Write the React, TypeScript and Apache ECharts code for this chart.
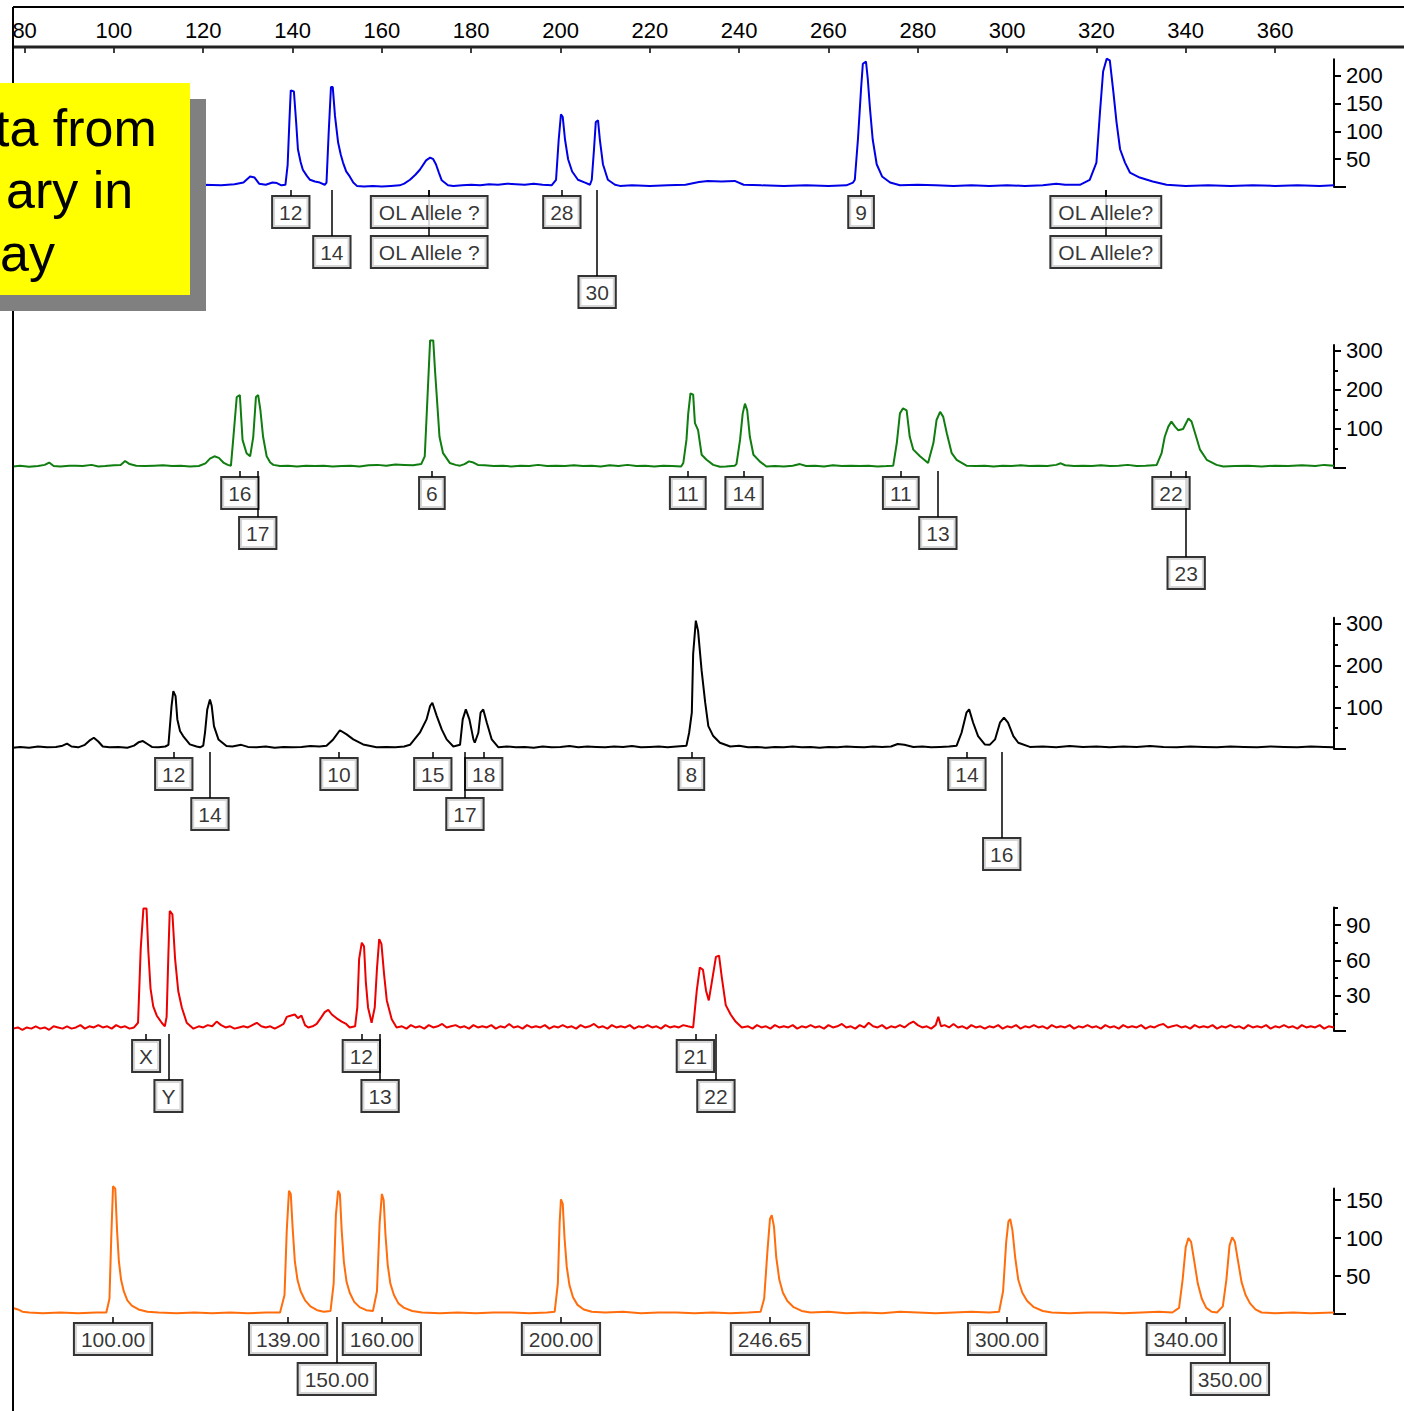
import React, { useEffect, useRef } from 'react';
import * as echarts from 'echarts';

// ---------- data (fragment sizes in bp, peak heights in RFU) ----------
const TOP_TICKS = [80, 100, 120, 140, 160, 180, 200, 220, 240, 260, 280, 300, 320, 340, 360];

const BLUE_TRACE: [number, number][] = [
  [77.4,3],[80,2],[84,4],[88,2],[92,3],[96,2],[100,4],[104,2],[108,3],[112,3],[116,2],[120,4],[124,3],[127,5],[129,8],[130.5,19],[131.5,17],[132.5,6],[134,4],[135.5,8],[136.5,7],[137.5,3],[138.4,4],[138.9,40],[139.3,120],[139.6,174],[140.3,172],[140.8,117],[141.2,68],[141.8,45],[142.3,31],[143.2,20],[143.9,13],[145,10],[146.1,8],[147.2,4],[147.6,8],[148.1,100],[148.6,180],[149.0,180],[149.5,128],[150.2,80],[150.8,58],[151.3,44],[152,28],[152.8,19],[153.6,8],[154.4,2],[156,1],[158,2],[160,1],[162,2],[164,3],[165,6],[166.3,13],[167.5,22],[168.5,31],[169.9,48],[170.8,53],[171.5,50],[172.1,41],[172.8,25],[173.4,12],[174.8,3],[176,2],[178,3],[180,4],[182,3],[184,5],[186,4],[188,6],[190,5],[192,4],[194,6],[196,4],[198,3],[199,13],[199.6,86],[200.1,131],[200.5,126],[201,86],[201.7,50],[202.6,28],[203.9,13],[205.5,8],[206.6,4],[207,13],[207.5,68],[207.9,117],[208.4,120],[208.8,86],[209.5,41],[210.6,13],[212.2,4],[213.3,2],[216,3],[220,2],[224,3],[228,4],[231,9],[233,11],[236,10],[239,11],[241,4],[245,3],[250,2],[255,3],[260,2],[264,3],[265.5,8],[265.9,13],[266.6,86],[267.3,177],[267.7,222],[268.4,226],[268.8,195],[269.3,141],[269.9,86],[270.8,41],[272,19],[273.8,8],[276,3],[280,4],[284,3],[288,2],[292,3],[296,2],[300,3],[304,2],[308,3],[311,6],[313,4],[316.3,4],[318.5,13],[320,44],[320.8,135],[321.5,208],[322.3,231],[323,228],[323.8,171],[324.5,117],[325.3,68],[326.4,44],[327.5,26],[329.7,17],[332.6,10],[335.7,4],[340,2],[345,3],[350,2],[355,3],[360,2],[365,3],[370,2],[373.2,3]
];

const GREEN_TRACE: [number, number][] = [
  [77.4,4],[79,6],[81,3],[83,5],[84.5,8],[85.5,14],[86.5,5],[88,4],[90,6],[91.5,6],[93,5],[95,8],[96.5,4],[98,5],[100,7],[101.5,8],[102.5,18],[103.5,10],[105,6],[107,5],[109,6],[111,7],[113,5],[115,6],[117,4],[119,5],[120.5,12],[121.5,24],[122.5,30],[123.5,26],[124.5,14],[125.5,8],[126.2,6],[126.7,72],[127.5,182],[128.2,187],[128.8,72],[129.7,38],[130.5,30],[131.2,80],[131.8,182],[132.3,187],[132.8,148],[133.4,80],[134.2,30],[135,14],[135.7,8],[137.2,5],[139,6],[141,4],[143,6],[145,5],[147,6],[149,4],[151,5],[153,6],[155,4],[157,7],[159,8],[161,6],[163,9],[165,8],[167,7],[168.8,10],[169.6,30],[170.2,178],[170.8,327],[171.5,327],[171.9,250],[172.3,182],[172.9,80],[173.7,38],[175.2,13],[176.5,8],[177.5,6],[178.5,10],[179.5,17],[180.5,14],[181.5,8],[183,7],[185,5],[187,6],[189,4],[191,6],[193,5],[195,8],[197,5],[199,6],[201,5],[203,7],[205,5],[207,6],[209,4],[211,7],[213,5],[215,8],[217,5],[219,6],[221,4],[223,6],[225,5],[227,4],[227.5,13],[228.2,72],[228.6,140],[229.1,191],[229.7,188],[230.1,115],[230.8,97],[231.6,34],[232.7,21],[234.2,8],[235.7,3],[237,4],[239,6],[239.4,10],[240.2,72],[240.8,140],[241.3,165],[241.8,148],[242.4,80],[243.2,34],[244.6,17],[246.1,4],[248,5],[250,4],[252,6],[253.6,10],[255,5],[257,6],[259,4],[261,7],[263,5],[265,6],[267,5],[269,6],[271,4],[273,5],[274.5,6],[275.3,64],[276,140],[276.7,153],[277.5,148],[278.2,80],[279,47],[280.5,30],[282.3,13],[283.5,64],[284.2,123],[285,144],[285.7,131],[286.5,89],[287.6,38],[288.7,21],[290.9,6],[293,5],[295,6],[297,4],[299,6],[301,5],[303,7],[305,5],[307,6],[309,5],[311,8],[312,12],[313,7],[315,5],[317,6],[319,5],[321,7],[323,5],[325,6],[327,8],[329,5],[331,6],[333.5,8],[334.6,38],[335.3,80],[336.1,106],[336.8,119],[337.6,106],[338.3,97],[339.4,100],[340.6,127],[341.3,119],[342.1,89],[343.2,47],[344.7,21],[346.9,8],[348.4,4],[351,5],[354,6],[357,4],[360,6],[363,5],[366,7],[369,5],[371,8],[373.2,6]
];

const BLACK_TRACE: [number, number][] = [
  [77.4,3],[79,5],[81,3],[83,6],[85,4],[87,5],[88.5,8],[89.5,13],[90.5,6],[92,4],[93.5,10],[94.5,20],[95.5,27],[96.5,18],[97.5,6],[99,4],[101,5],[103,3],[104.5,8],[105.5,16],[106.5,19],[107.5,12],[108.5,5],[110,4],[111.5,6],[112.2,10],[112.9,103],[113.3,139],[113.8,127],[114.2,71],[114.8,43],[115.5,31],[117,11],[118.5,6],[119.3,4],[120.0,8],[120.4,40],[120.9,95],[121.5,119],[121.9,103],[122.4,55],[123.4,23],[125.2,7],[126.5,6],[128.5,10],[130,5],[132,4],[134,6],[136,3],[138,5],[140,4],[142,5],[144,7],[146,6],[147.6,8],[149.1,23],[150.6,45],[152.1,35],[153.6,23],[155.8,11],[158.8,4],[161,5],[163,4],[165,6],[166.3,10],[168.5,39],[170.0,71],[170.8,103],[171.3,111],[172.3,79],[173.4,47],[174.5,23],[176.0,6],[177.5,10],[178.1,71],[178.8,95],[179.6,71],[180.5,23],[180.8,15],[181.6,39],[182.1,87],[182.7,95],[183.5,63],[184.6,23],[186.1,4],[188,6],[190,4],[192,5],[194,3],[196,6],[198,4],[200,5],[202,7],[204,4],[206,6],[208,5],[210,4],[212,6],[214,5],[216,7],[218,4],[220,5],[222,6],[224,4],[226,6],[228.2,8],[228.8,39],[229.4,87],[229.7,228],[230.3,308],[230.8,284],[231.6,188],[232.4,111],[233.1,55],[234.2,31],[235.7,15],[238,6],[240,8],[242,4],[244,5],[246,3],[248,5],[250,4],[252,6],[254,4],[256,5],[258,3],[260,5],[262,4],[264,6],[266,5],[268,4],[270,6],[272,5],[274,6],[275.5,12],[277,10],[279,5],[281,6],[283,4],[285,5],[287,6],[288.7,8],[289.8,39],[290.9,87],[291.5,95],[292.4,63],[293.5,31],[295,11],[296.1,10],[297.3,23],[298.4,63],[299.3,75],[300.2,63],[301.4,31],[302.5,15],[305.1,5],[308,6],[311,4],[314,7],[317,5],[320,6],[323,4],[326,6],[329,5],[332,7],[335,5],[338,4],[341,6],[344,5],[347,4],[350,6],[353,5],[356,4],[359,6],[362,5],[365,4],[368,6],[371,5],[373.2,4]
];

const RED_TRACE: [number, number][] = [
  [77.4,2],[78.5,3],[79.5,1],[80.5,3],[81.5,2],[82.5,4],[83.5,2],[84.5,3],[85.5,1],[86.5,4],[87.5,3],[88.5,2],[89.5,4],[90.5,2],[91.5,3],[92.5,5],[93.5,2],[94.5,4],[95.5,3],[96.5,5],[97.5,3],[98.5,4],[99.5,2],[100.5,5],[101.5,3],[102.5,4],[103.5,2],[104.5,3],[105.4,7],[106.0,70],[106.6,104],[107.3,104],[107.7,68],[108.2,36],[108.8,21],[109.6,13],[110.7,7],[111.4,4],[111.8,12],[112.2,66],[112.5,102],[113.1,99],[113.7,61],[114.4,34],[115.2,20],[116.3,7],[117.8,2],[119,4],[120,3],[121,5],[122,4],[123,8],[124,5],[125,3],[126,4],[127,2],[128,3],[129,4],[130,3],[131,5],[132,7],[133,4],[134,3],[135,4],[136,2],[137,4],[138,6],[138.7,12],[139.5,13],[140.5,14],[141.2,11],[142,13],[142.8,5],[143.5,3],[144.5,4],[145.4,6],[146.5,12],[147.2,16],[148,18],[148.8,14],[149.8,11],[151,8],[152,6],[152.8,3],[154,4],[154.5,20],[154.9,61],[155.5,75],[156,72],[156.4,42],[156.9,20],[157.7,7],[158.4,20],[158.9,53],[159.4,78],[159.9,74],[160.5,48],[161.1,26],[162.2,10],[163.3,3],[164.5,4],[165.5,2],[166.5,5],[167.5,3],[168.5,4],[169.5,2],[170.5,5],[171.5,3],[172.5,4],[173.5,6],[174.5,3],[175.5,4],[176.5,5],[177.5,3],[178.5,4],[179.5,2],[180.5,5],[181.5,3],[182.5,4],[183.5,3],[184.5,5],[185.5,2],[186.5,4],[187.5,3],[188.5,6],[189.5,3],[190.5,4],[191.5,2],[192.5,5],[193.5,3],[194.5,4],[195.5,3],[196.5,5],[197.5,2],[198.5,4],[199.5,3],[200.5,5],[201.5,3],[202.5,4],[203.5,2],[204.5,5],[205.5,3],[206.5,4],[207.5,6],[208.5,3],[209.5,4],[210.5,2],[211.5,5],[212.5,3],[213.5,4],[214.5,3],[215.5,5],[216.5,2],[217.5,4],[218.5,3],[219.5,5],[220.5,3],[221.5,4],[222.5,2],[223.5,5],[224.5,3],[225.5,4],[226.5,3],[227.5,5],[228.5,4],[229.7,3],[230.5,34],[231.2,54],[231.9,52],[232.6,34],[233.2,26],[233.9,42],[234.8,63],[235.5,64],[236.1,46],[237,22],[238.1,14],[239.2,8],[240.6,3],[242,4],[243,2],[244,5],[245,3],[246,4],[247,2],[248,5],[249,3],[250,4],[251,3],[252,5],[253,2],[254,4],[255,3],[256,5],[257,3],[258,4],[259,2],[260,5],[261,3],[262,4],[263,6],[264,3],[265,4],[266,2],[267,5],[268,3],[269,7],[270,4],[271,3],[272,5],[273,2],[274,4],[275,3],[276,5],[277,3],[278,6],[279,8],[280,5],[281,3],[282,4],[283,2],[284,5],[284.6,12],[285.2,4],[286,5],[287,3],[288,6],[289,3],[290,4],[291,2],[292,5],[293,3],[294,4],[295,2],[296,4],[297,3],[298,5],[299,2],[300,4],[301,3],[302,5],[303,2],[304,4],[305,3],[306,5],[307,3],[308,4],[309,2],[310,5],[311,3],[312,4],[313,3],[314,5],[315,2],[316,4],[317,3],[318,5],[319,3],[320,4],[321,2],[322,5],[323,3],[324,4],[325,2],[326,5],[327,3],[328,4],[329,3],[330,5],[331,2],[332,4],[333,3],[334,5],[335,6],[336,3],[337,4],[338,5],[339,3],[340,4],[341,2],[342,5],[343,3],[344,4],[345,3],[346,5],[347,2],[348,4],[349,3],[350,5],[351,3],[352,4],[353,2],[354,5],[355,3],[356,4],[357,3],[358,5],[359,2],[360,4],[361,3],[362,5],[363,3],[364,4],[365,2],[366,5],[367,3],[368,4],[369,3],[370,5],[371,2],[372,4],[373.2,3]
];

const ORANGE_TRACE: [number, number][] = [
  [77.4,8],[78.5,6],[79.5,3],[81,2],[84,1],[88,2],[92,1],[96,2],[98.3,2],[99.0,20],[99.4,100],[99.8,168],[100.3,165],[100.7,110],[101.1,70],[101.6,45],[102.2,30],[103,18],[104,11],[105.5,6],[107.5,3],[110,2],[114,1],[118,2],[122,1],[126,2],[130,1],[134,2],[137.2,2],[138.2,25],[138.7,110],[139.2,162],[139.6,158],[140.0,115],[140.5,70],[141.1,45],[141.8,30],[142.8,18],[144,10],[145.5,5],[147,3],[148.5,4],[149.2,40],[149.7,130],[150.2,162],[150.6,158],[151.0,110],[151.5,68],[152.1,42],[152.8,28],[153.8,16],[155,9],[156.5,5],[158,4],[158.9,30],[159.5,120],[160.0,158],[160.4,150],[160.8,105],[161.3,65],[161.9,40],[162.7,25],[163.7,14],[165,8],[166.8,4],[169,2],[173,1],[177,2],[181,1],[185,2],[189,2],[193,1],[197,2],[198.7,3],[199.4,40],[199.8,120],[200.1,151],[200.5,145],[200.9,100],[201.4,62],[202,38],[202.8,22],[203.8,12],[205.2,6],[207,3],[210,2],[214,3],[218,1],[222,2],[226,2],[230,1],[234,2],[238,1],[242,2],[244.8,3],[245.6,20],[246.3,80],[246.9,125],[247.3,130],[247.8,115],[248.3,75],[249,45],[249.8,28],[250.8,17],[252.2,9],[254,4],[256,2],[260,3],[264,1],[268,2],[272,1],[276,3],[280,2],[284,1],[288,2],[292,3],[296,2],[298.2,3],[299.1,30],[299.8,95],[300.3,122],[300.7,125],[301.2,110],[301.8,75],[302.5,45],[303.4,28],[304.5,17],[306,9],[308,4],[310,2],[314,1],[318,2],[322,2],[326,1],[330,2],[334,3],[337,2],[338.5,8],[339.3,45],[340,88],[340.6,100],[341.2,95],[341.9,70],[342.7,40],[343.6,20],[344.6,8],[345.8,3],[347,2],[348.3,10],[349.1,45],[349.8,90],[350.4,101],[351,95],[351.7,70],[352.5,42],[353.4,25],[354.4,14],[355.6,6],[357,2],[360,1],[364,2],[368,1],[373.2,2]
];

// allele call labels: [size, row, text]
const BLUE_LABELS: [number, number, string][] = [
  [139.6,1,'12'],[148.8,2,'14'],[170.6,1,'OL Allele ?'],[170.6,2,'OL Allele ?'],[200.3,1,'28'],[208.2,3,'30'],[267.3,1,'9'],[322.1,1,'OL Allele?'],[322.1,2,'OL Allele?']
];
const GREEN_LABELS: [number, number, string][] = [
  [128.2,1,'16'],[132.2,2,'17'],[171.2,1,'6'],[228.5,1,'11'],[241.1,1,'14'],[276.2,1,'11'],[284.5,2,'13'],[336.7,1,'22'],[340.1,3,'23']
];
const BLACK_LABELS: [number, number, string][] = [
  [113.4,1,'12'],[121.5,2,'14'],[150.4,1,'10'],[171.4,1,'15'],[178.6,2,'17'],[182.8,1,'18'],[229.3,1,'8'],[291.0,1,'14'],[298.8,3,'16']
];
const RED_LABELS: [number, number, string][] = [
  [107.2,1,'X'],[112.2,2,'Y'],[155.4,1,'12'],[159.6,2,'13'],[230.2,1,'21'],[234.8,2,'22']
];
const ORANGE_LABELS: [number, number, string][] = [
  [99.8,1,'100.00'],[139.0,1,'139.00'],[149.9,2,'150.00'],[160.0,1,'160.00'],[200.1,1,'200.00'],[246.9,1,'246.65'],[300.0,1,'300.00'],[340.0,1,'340.00'],[349.9,2,'350.00']
];

// right-hand axis tick labels
const BLUE_AXIS = [50, 100, 150, 200];
const GREEN_AXIS = [100, 200, 300];
const GREEN_MINOR = [50, 150, 250];
const BLACK_AXIS = [100, 200, 300];
const BLACK_MINOR = [50, 150, 250];
const RED_AXIS = [30, 60, 90];
const RED_MINOR = [15, 45, 75, 105];
const ORANGE_AXIS = [50, 100, 150];

// ---------- layout ----------
const X_MIN = 77.4;
const X_MAX = 373.2;
const PLOT_LEFT = 13;
const PLOT_WIDTH = 1321;
const FONT = "'Liberation Sans', Arial, Helvetica, sans-serif";

const PANELS = [
  { trace: BLUE_TRACE, labels: BLUE_LABELS, color: '#0000e6', max: 230, axis: BLUE_AXIS, minor: [] as number[], base: 187, height: 127.7, labH: 120 },
  { trace: GREEN_TRACE, labels: GREEN_LABELS, color: '#0f7d0f', max: 315, axis: GREEN_AXIS, minor: GREEN_MINOR, base: 468, height: 122.9, labH: 120 },
  { trace: BLACK_TRACE, labels: BLACK_LABELS, color: '#000000', max: 315, axis: BLACK_AXIS, minor: BLACK_MINOR, base: 749, height: 131.3, labH: 120 },
  { trace: RED_TRACE, labels: RED_LABELS, color: '#ec0000', max: 105, axis: RED_AXIS, minor: RED_MINOR, base: 1031, height: 123.6, labH: 120 },
  { trace: ORANGE_TRACE, labels: ORANGE_LABELS, color: '#ff6d0c', max: 165, axis: ORANGE_AXIS, minor: [] as number[], base: 1314, height: 125.4, labH: 90 },
];

// label grid: 40px per row, row centres 25px, 65px, 105px below the baseline
const ROW_PX = 40;
const LABEL_Y_MIN = -0.625;

function buildOption() {
  const grid: any[] = [];
  const xAxis: any[] = [];
  const yAxis: any[] = [];
  const series: any[] = [];

  // top size axis
  grid.push({ left: PLOT_LEFT, top: 7, width: PLOT_WIDTH, height: 39 });
  xAxis.push({
    gridIndex: 0, type: 'value', position: 'top', min: X_MIN, max: X_MAX,
    axisLine: { show: false },
    axisTick: { show: true, inside: true, length: 7, customValues: TOP_TICKS, lineStyle: { color: '#000', width: 1.5 } },
    axisLabel: { show: true, inside: true, margin: 12, customValues: TOP_TICKS, fontSize: 22, color: '#000', fontFamily: FONT },
    splitLine: { show: false },
  });
  yAxis.push({ gridIndex: 0, type: 'value', show: false });

  PANELS.forEach((p) => {
    const gTrace = grid.length;
    grid.push({ left: PLOT_LEFT, top: p.base - p.height, width: PLOT_WIDTH, height: p.height });
    xAxis.push({ gridIndex: gTrace, type: 'value', min: X_MIN, max: X_MAX, show: false });
    const yMain = yAxis.length;
    yAxis.push({
      gridIndex: gTrace, type: 'value', position: 'right', min: 0, max: p.max,
      axisLine: { show: true, lineStyle: { color: '#000', width: 2 } },
      axisTick: { show: true, length: 7, customValues: p.axis, lineStyle: { color: '#000', width: 2 } },
      axisLabel: { show: true, customValues: p.axis, margin: 12, fontSize: 22, color: '#000', fontFamily: FONT },
      splitLine: { show: false },
    });
    // longer zero tick (baseline continues past the axis)
    yAxis.push({
      gridIndex: gTrace, type: 'value', position: 'right', min: 0, max: p.max,
      axisLine: { show: false },
      axisTick: { show: true, length: 12, customValues: [0], lineStyle: { color: '#000', width: 2 } },
      axisLabel: { show: false },
      splitLine: { show: false },
    });
    if (p.minor.length) {
      yAxis.push({
        gridIndex: gTrace, type: 'value', position: 'right', min: 0, max: p.max,
        axisLine: { show: false },
        axisTick: { show: true, length: 4, customValues: p.minor, lineStyle: { color: '#000', width: 2 } },
        axisLabel: { show: false },
        splitLine: { show: false },
      });
    }
    series.push({
      type: 'line', xAxisIndex: gTrace, yAxisIndex: yMain, data: p.trace,
      showSymbol: false, symbol: 'none', clip: false, smooth: false,
      lineStyle: { color: p.color, width: 2 }, z: 3, silent: true,
    });

    const gLab = grid.length;
    grid.push({ left: PLOT_LEFT, top: p.base, width: PLOT_WIDTH, height: p.labH });
    xAxis.push({ gridIndex: gLab, type: 'value', min: X_MIN, max: X_MAX, show: false });
    const yLab = yAxis.length;
    yAxis.push({ gridIndex: gLab, type: 'value', min: LABEL_Y_MIN, max: LABEL_Y_MIN + p.labH / ROW_PX, inverse: true, show: false });

    series.push({
      type: 'lines', coordinateSystem: 'cartesian2d', xAxisIndex: gLab, yAxisIndex: yLab,
      polyline: false, silent: true, z: 2,
      lineStyle: { color: '#000', width: 1.5, opacity: 1 },
      data: p.labels.map(([x, r]) => ({ coords: [[x, -0.55], [x, r - 1 - 0.4]] })),
    });
    series.push({
      type: 'scatter', xAxisIndex: gLab, yAxisIndex: yLab, z: 5, silent: true, clip: false,
      symbol: 'rect', symbolSize: 1, itemStyle: { color: 'rgba(0,0,0,0)' },
      data: p.labels.map(([x, r, t]) => [x, r - 1, t]),
      label: {
        show: true, position: 'inside', formatter: (q: any) => q.data[2],
        color: '#000', fontSize: 21, fontFamily: FONT, lineHeight: 22,
        backgroundColor: '#fff', borderColor: '#000', borderWidth: 2, padding: [4, 6],
      },
    });
  });

  const graphic: any[] = [
    { type: 'line', shape: { x1: 13, y1: 7, x2: 1404, y2: 7 }, style: { stroke: '#000', lineWidth: 2 }, z: 50 },
    { type: 'line', shape: { x1: 13, y1: 47, x2: 1404, y2: 47 }, style: { stroke: '#222', lineWidth: 3 }, z: 50 },
    { type: 'line', shape: { x1: 13, y1: 7, x2: 13, y2: 1411 }, style: { stroke: '#000', lineWidth: 2 }, z: 50 },
    { type: 'rect', shape: { x: 0, y: 0, width: 12, height: 60 }, style: { fill: '#fff' }, z: 60 },
    { type: 'rect', shape: { x: 0, y: 99, width: 206, height: 212 }, style: { fill: '#808080' }, z: 100 },
    { type: 'rect', shape: { x: 0, y: 83, width: 190, height: 212 }, style: { fill: '#ffff00' }, z: 101 },
    { type: 'text', x: -5, y: 127.5, style: { text: 'ta from', fontSize: 52, fontFamily: FONT, fill: '#000', verticalAlign: 'middle', align: 'left' }, z: 102 },
    { type: 'text', x: 6, y: 189.5, style: { text: 'ary in', fontSize: 52, fontFamily: FONT, fill: '#000', verticalAlign: 'middle', align: 'left' }, z: 102 },
    { type: 'text', x: 0, y: 252.5, style: { text: 'ay', fontSize: 52, fontFamily: FONT, fill: '#000', verticalAlign: 'middle', align: 'left' }, z: 102 },
  ];

  return {
    animation: false,
    backgroundColor: '#fff',
    grid, xAxis, yAxis, series, graphic,
  };
}

export default function App() {
  const ref = useRef<HTMLDivElement>(null);
  useEffect(() => {
    if (!ref.current) return;
    const chart = echarts.init(ref.current, null, { renderer: 'svg' });
    chart.setOption(buildOption() as any);
    return () => chart.dispose();
  }, []);
  return (
    <div
      ref={ref}
      style={{ position: 'fixed', left: 0, top: 0, width: 1404, height: 1411, background: '#fff' }}
    />
  );
}
